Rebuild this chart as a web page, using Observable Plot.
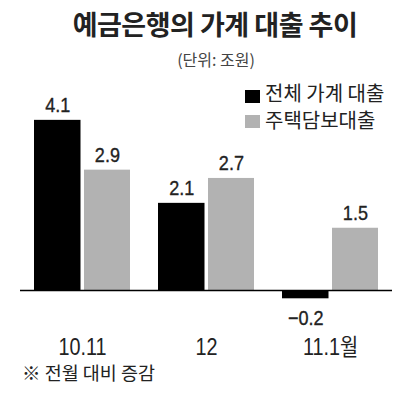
<!DOCTYPE html>
<html>
<head>
<meta charset="utf-8">
<script src="https://cdn.jsdelivr.net/npm/d3@7"></script>
<script src="https://cdn.jsdelivr.net/npm/@observablehq/plot@0.6"></script>
<style>
  body { margin: 0; background: #fff; }
  #wrap { position: relative; width: 400px; height: 396px; overflow: hidden; background: #fff;
          font-family: "Noto Sans CJK KR", "Noto Sans", sans-serif; color: #222; }
  .abs { position: absolute; white-space: nowrap; line-height: 1; }
  #title { left: 0; width: 430px; top: 10px; text-align: center; font-size: 27px; font-weight: 700; letter-spacing: -0.5px; color: #222; }
  #subtitle { left: 0; width: 432px; top: 51px; text-align: center; font-size: 16px; color: #444; }
  #chart { position: absolute; left: 0; top: 76px; }
  .sw { position: absolute; width: 15px; height: 13px; }
  .lg { font-size: 20px; color: #222; }
  #caption { left: 22px; top: 363px; font-size: 18.5px; color: #222; }
</style>
</head>
<body>
<div id="wrap">
  <div id="title" class="abs">예금은행의 가계 대출 추이</div>
  <div id="subtitle" class="abs">(단위: 조원)</div>
  <div id="chart"></div>
  <div id="legend"></div>
  <div id="caption" class="abs">※ 전월 대비 증감</div>
</div>
<script>
const categories = ["10.11", "12", "11.1월"];
const seriesNames = ["전체 가계 대출", "주택담보대출"];
const totalLoans = [4.1, 2.1, -0.2];
const mortgageLoans = [2.9, 2.7, 1.5];
const seriesColors = ["#000000", "#b2b2b2"];

const rows = [];
categories.forEach((c, i) => {
  rows.push({cat: c, series: seriesNames[0], value: totalLoans[i]});
  rows.push({cat: c, series: seriesNames[1], value: mortgageLoans[i]});
});
const fmt = v => (v < 0 ? "\u2212" : "") + Math.abs(v).toFixed(1);

const numFont = "'Liberation Sans', 'Noto Sans CJK KR', sans-serif";
const valueSize = 21;
const tickFontSize = 23;
const labelStyle = {fontSize: valueSize, fill: "#222", stroke: "#222", strokeWidth: 0.35, fontFamily: numFont};

const s0 = rows.filter(d => d.series === seriesNames[0]);
const s1 = rows.filter(d => d.series === seriesNames[1]);

const chart = Plot.plot({
  width: 400,
  height: 286,
  marginTop: 6.5,
  marginBottom: 30.5,
  marginLeft: 20,
  marginRight: 8,
  style: {background: "transparent", color: "#222", fontFamily: numFont},
  x: {domain: categories, paddingInner: 0.227, paddingOuter: 0.107},
  y: {domain: [-1, 5], axis: null},
  marks: [
    Plot.barY(s0, {x: "cat", y: "value", fill: seriesColors[0], insetLeft: 0, insetRight: 49.5}),
    Plot.barY(s1, {x: "cat", y: "value", fill: seriesColors[1], insetLeft: 50, insetRight: 0}),
    Plot.ruleY([0], {stroke: "#000", strokeWidth: 1.4}),
    Plot.text(s0.filter(d => d.value >= 0), {x: "cat", y: "value", text: d => fmt(d.value), dx: -24.7, dy: -8, lineAnchor: "bottom", ...labelStyle}),
    Plot.text(s0.filter(d => d.value < 0), {x: "cat", y: "value", text: d => fmt(d.value), dx: -24.7, dy: 11, lineAnchor: "top", ...labelStyle}),
    Plot.text(s1.filter(d => d.value >= 0), {x: "cat", y: "value", text: d => fmt(d.value), dx: 24.9, dy: -8, lineAnchor: "bottom", ...labelStyle}),
    Plot.axisX({tickSize: 0, tickPadding: 7, label: null, fontSize: tickFontSize, fill: "#222", fontFamily: numFont})
  ]
});
document.getElementById("chart").appendChild(chart);

// condense the numeric labels horizontally (reference uses a narrow face)
chart.querySelectorAll("text").forEach(t => {
  const len = t.getComputedTextLength();
  if (len > 0) {
    t.setAttribute("textLength", (len * 0.86).toFixed(2));
    t.setAttribute("lengthAdjust", "spacingAndGlyphs");
  }
});

const legend = document.getElementById("legend");
const legendTops = [[90, 83], [115, 110]];
seriesNames.forEach((name, i) => {
  const sw = document.createElement("div");
  sw.className = "sw";
  sw.style.left = "245px";
  sw.style.top = legendTops[i][0] + "px";
  sw.style.background = seriesColors[i];
  legend.appendChild(sw);
  const t = document.createElement("div");
  t.className = "abs lg";
  t.style.left = "265px";
  t.style.top = legendTops[i][1] + "px";
  t.textContent = name;
  legend.appendChild(t);
});
</script>
</body>
</html>
